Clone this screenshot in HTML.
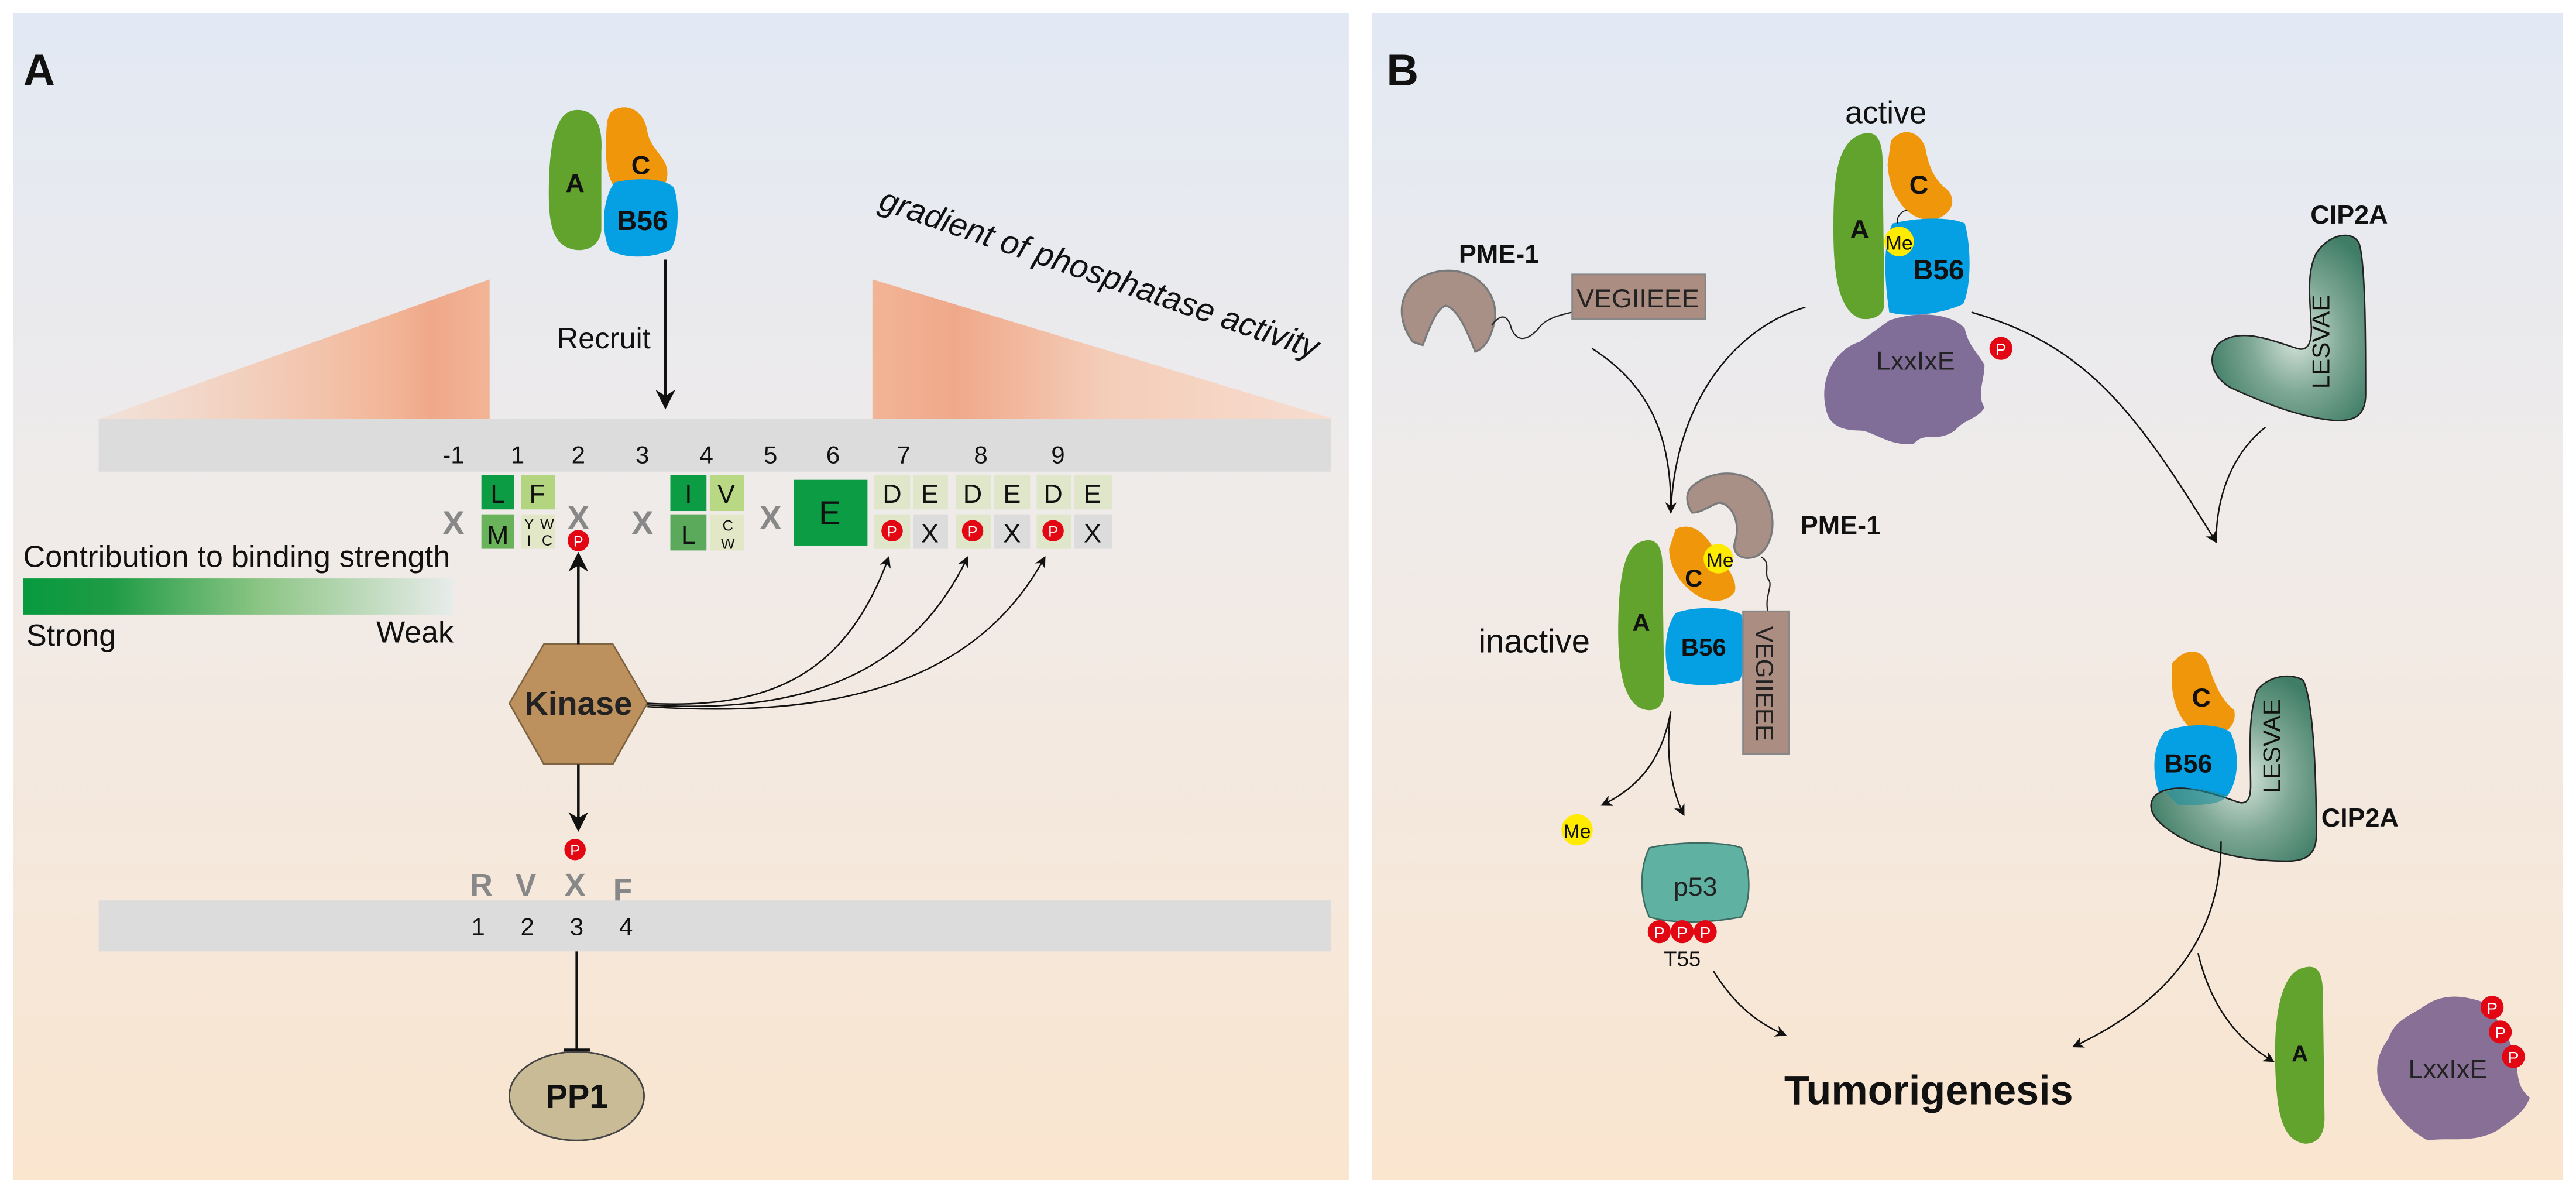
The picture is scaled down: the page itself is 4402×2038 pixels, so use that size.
<!DOCTYPE html>
<html><head><meta charset="utf-8"><style>
html,body{margin:0;padding:0;background:#fff;}
svg{display:block;}
text{font-family:"Liberation Sans",Arial,sans-serif;}
</style></head><body>
<svg width="4402" height="2038" viewBox="0 0 1568 726" xmlns="http://www.w3.org/2000/svg">
<defs>
<linearGradient id="bg" x1="0" y1="0" x2="0" y2="1">
<stop offset="0" stop-color="#e2e9f4"/><stop offset="0.45" stop-color="#f0ebe8"/><stop offset="1" stop-color="#fae5cf"/>
</linearGradient>
<linearGradient id="tl" x1="0" y1="0" x2="1" y2="0">
<stop offset="0" stop-color="#f6d8c6" stop-opacity="0.5"/><stop offset="0.75" stop-color="#f2b596"/><stop offset="0.85" stop-color="#f0a88a"/><stop offset="1" stop-color="#f2b496"/>
</linearGradient>
<linearGradient id="tr" x1="0" y1="0" x2="1" y2="0">
<stop offset="0" stop-color="#f2b496"/><stop offset="0.18" stop-color="#f0a88a"/><stop offset="0.5" stop-color="#f4cdb8"/><stop offset="1" stop-color="#f7ddd0"/>
</linearGradient>
<linearGradient id="leg" x1="0" y1="0" x2="1" y2="0">
<stop offset="0" stop-color="#079a3e"/><stop offset="0.2" stop-color="#1e9b45"/><stop offset="0.55" stop-color="#8cc585"/><stop offset="1" stop-color="#e8ecea"/>
</linearGradient>
<radialGradient id="cip" cx="0.55" cy="0.55" r="0.6">
<stop offset="0" stop-color="#d8e6dd"/><stop offset="0.5" stop-color="#7fa896"/><stop offset="1" stop-color="#3f7d66"/>
</radialGradient>
<marker id="ah" viewBox="0 0 10 10" refX="9" refY="5" markerWidth="7" markerHeight="7" orient="auto-start-reverse" markerUnits="userSpaceOnUse">
<path d="M0,0 L10,5 L0,10 L3,5Z" fill="#111"/></marker>
<marker id="ahb" viewBox="0 0 10 10" refX="9" refY="5" markerWidth="12" markerHeight="12" orient="auto" markerUnits="userSpaceOnUse">
<path d="M0,0 L10,5 L0,10 L3,5Z" fill="#111"/></marker>
</defs>
<rect width="1568" height="726" fill="#fff"/>
<rect x="8" y="8" width="813" height="710" fill="url(#bg)"/>
<rect x="835" y="8" width="725" height="710" fill="url(#bg)"/>

<!-- PANEL A -->
<text x="14" y="52" font-size="27" font-weight="bold" fill="#111">A</text>
<path d="M60,255 L298,170 L298,255Z" fill="url(#tl)"/>
<path d="M531,170 L531,255 L812,255Z" fill="url(#tr)"/>
<text transform="translate(534,127) rotate(19)" font-size="20" font-style="italic" fill="#111">gradient of phosphatase activity</text>
<!-- complex -->
<path d="M350,67 C362,66 367,76 366,92 L366,140 C365,150 357,153 350,152 C338,150 334,140 334,118 C334,88 338,68 350,67Z" fill="#62a32e"/>
<path d="M372,68 C380,62 392,66 394,80 C396,92 408,96 406,108 C404,120 392,123 384,121 C372,118 368,104 369,88 C369,78 369,72 372,68Z" fill="#f0960a"/>
<path d="M374,111 C386,108 404,108 410,114 C414,124 413,146 408,152 C396,158 378,157 371,152 C366,142 366,122 374,111Z" fill="#05a0e4"/>
<text x="350" y="117" font-size="16" font-weight="bold" fill="#111" text-anchor="middle">A</text>
<text x="390" y="106" font-size="16" font-weight="bold" fill="#111" text-anchor="middle">C</text>
<text x="391" y="140" font-size="17" font-weight="bold" fill="#111" text-anchor="middle">B56</text>
<text x="339" y="212" font-size="18" fill="#111">Recruit</text>
<line x1="405" y1="158" x2="405" y2="248" stroke="#111" stroke-width="1.5" marker-end="url(#ahb)"/>
<!-- bar1 -->
<rect x="60" y="255" width="750" height="32" fill="#dcdcdc"/>
<g font-size="15" fill="#111" text-anchor="middle">
<text x="276" y="282">-1</text><text x="315" y="282">1</text><text x="352" y="282">2</text><text x="391" y="282">3</text><text x="430" y="282">4</text><text x="469" y="282">5</text><text x="507" y="282">6</text><text x="550" y="282">7</text><text x="597" y="282">8</text><text x="644" y="282">9</text>
</g>
<!-- residues -->
<g font-size="20" fill="#888" text-anchor="middle" font-weight="bold">
<text x="276" y="325">X</text><text x="352" y="322">X</text><text x="391" y="325">X</text><text x="469" y="322">X</text>
</g>
<rect x="293" y="289" width="20" height="21" fill="#0b9c44"/>
<rect x="317" y="289" width="21" height="21" fill="#b3d57f"/>
<rect x="293" y="313" width="20" height="21" fill="#69b45a"/>
<rect x="317" y="313" width="21" height="21" fill="#e2e7c8"/>
<rect x="408" y="289" width="22" height="22" fill="#0b9c44"/>
<rect x="432" y="289" width="21" height="22" fill="#b9d884"/>
<rect x="408" y="313" width="22" height="22" fill="#5ba95a"/>
<rect x="432" y="313" width="21" height="22" fill="#e2e7c8"/>
<rect x="483" y="292" width="45" height="40" fill="#0b9c44"/>
<g fill="#e0e6c9"><rect x="532" y="289" width="22" height="21"/><rect x="556" y="289" width="21" height="21"/><rect x="582" y="289" width="21" height="21"/><rect x="605" y="289" width="22" height="21"/><rect x="631" y="289" width="21" height="21"/><rect x="654" y="289" width="23" height="21"/>
<rect x="532" y="313" width="22" height="21"/><rect x="582" y="313" width="21" height="21"/><rect x="631" y="313" width="21" height="21"/></g>
<g fill="#dcdcdc"><rect x="556" y="313" width="21" height="21"/><rect x="605" y="313" width="22" height="21"/><rect x="654" y="313" width="23" height="21"/></g>
<g font-size="16" fill="#111" text-anchor="middle">
<text x="303" y="306">L</text><text x="327" y="306">F</text><text x="303" y="331">M</text>
<text x="419" y="306">I</text><text x="442" y="306">V</text><text x="419" y="331">L</text>
<text x="505" y="319" font-size="20">E</text>
<text x="543" y="306">D</text><text x="566" y="306">E</text><text x="592" y="306">D</text><text x="616" y="306">E</text><text x="641" y="306">D</text><text x="665" y="306">E</text>
<text x="566" y="330">X</text><text x="616" y="330">X</text><text x="665" y="330">X</text>
</g>
<g font-size="9" fill="#111" text-anchor="middle">
<text x="322" y="322">Y</text><text x="333" y="322">W</text><text x="322" y="332">I</text><text x="333" y="332">C</text>
<text x="443" y="323">C</text><text x="443" y="334">W</text>
</g>
<g fill="#e30613"><circle cx="352" cy="329" r="6.5"/><circle cx="543" cy="323" r="6.5"/><circle cx="592" cy="323" r="6.5"/><circle cx="641" cy="323" r="6.5"/><circle cx="350" cy="517" r="6.5"/></g>
<g font-size="9" fill="#fff" text-anchor="middle"><text x="352" y="332.5">P</text><text x="543" y="326.5">P</text><text x="592" y="326.5">P</text><text x="641" y="326.5">P</text><text x="350" y="520.5">P</text></g>
<!-- legend -->
<text x="14" y="345" font-size="18.5" fill="#111" textLength="260">Contribution to binding strength</text>
<rect x="14" y="352" width="262" height="22" fill="url(#leg)"/>
<text x="16" y="393" font-size="18.5" fill="#111">Strong</text>
<text x="276" y="391" font-size="18.5" fill="#111" text-anchor="end">Weak</text>
<!-- kinase -->
<path d="M331,392 L373,392 L394,428 L373,465 L331,465 L310,428Z" fill="#bd915e" stroke="#7f6442" stroke-width="1"/>
<text x="352" y="435" font-size="20" font-weight="bold" fill="#222" text-anchor="middle">Kinase</text>
<line x1="352" y1="392" x2="352" y2="337" stroke="#111" stroke-width="1.6" marker-end="url(#ahb)"/>
<line x1="352" y1="465" x2="352" y2="505" stroke="#111" stroke-width="1.6" marker-end="url(#ahb)"/>
<g fill="none" stroke="#111" stroke-width="0.9">
<path d="M394,428 C470,432 515,410 541,339" marker-end="url(#ah)"/>
<path d="M394,429 C490,435 555,410 589,339" marker-end="url(#ah)"/>
<path d="M394,430 C510,438 595,415 636,339" marker-end="url(#ah)"/>
</g>
<!-- bar2 -->
<g font-size="19" fill="#888" font-weight="bold" text-anchor="middle"><text x="293" y="545">R</text><text x="320" y="545">V</text><text x="350" y="545">X</text><text x="379" y="548">F</text></g>
<rect x="60" y="548" width="750" height="31" fill="#dcdcdc"/>
<g font-size="15" fill="#111" text-anchor="middle"><text x="291" y="569">1</text><text x="321" y="569">2</text><text x="351" y="569">3</text><text x="381" y="569">4</text></g>
<line x1="351" y1="579" x2="351" y2="639" stroke="#111" stroke-width="1.5"/>
<line x1="343" y1="639" x2="359" y2="639" stroke="#111" stroke-width="1.8"/>
<ellipse cx="351" cy="667" rx="41" ry="27" fill="#c8bb95" stroke="#444" stroke-width="1"/>
<text x="351" y="674" font-size="20" font-weight="bold" fill="#111" text-anchor="middle">PP1</text>

<!-- PANEL B -->
<text x="844" y="52" font-size="27" font-weight="bold" fill="#111">B</text>
<text x="1148" y="75" font-size="19" fill="#111" text-anchor="middle">active</text>
<!-- active complex -->
<path d="M1112,251 C1106,230 1118,212 1132,208 L1150,195 C1170,188 1190,192 1196,200 C1198,210 1204,215 1208,222 C1208,232 1203,240 1208,248 C1204,255 1196,255 1190,262 C1178,270 1172,262 1165,270 C1150,272 1140,262 1132,262 C1120,262 1114,258 1112,251Z" fill="#806e99"/>
<path d="M1132,82 C1143,78 1146,86 1146,100 L1147,185 C1147,192 1140,195 1133,194 C1120,190 1116,170 1116,140 C1116,108 1118,88 1132,82Z" fill="#62a32e"/>
<path d="M1151,86 C1156,78 1168,78 1172,90 C1174,102 1178,110 1186,116 C1192,124 1186,132 1176,134 C1160,134 1150,118 1149,100Z" fill="#f0960a"/>
<path d="M1152,136 C1168,132 1188,132 1196,136 C1200,150 1200,175 1195,185 C1180,192 1160,193 1150,190 C1147,170 1146,148 1152,136Z" fill="#05a0e4"/>
<path d="M1155,136 C1154,132 1158,128 1161,128" fill="none" stroke="#111" stroke-width="0.6"/>
<circle cx="1156" cy="147" r="9" fill="#ffeb00"/>
<text x="1156" y="152" font-size="12" fill="#111" text-anchor="middle">Me</text>
<text x="1132" y="145" font-size="16" font-weight="bold" fill="#111" text-anchor="middle">A</text>
<text x="1168" y="118" font-size="16" font-weight="bold" fill="#111" text-anchor="middle">C</text>
<text x="1180" y="170" font-size="17" font-weight="bold" fill="#111" text-anchor="middle">B56</text>
<text x="1166" y="225" font-size="16" fill="#222" text-anchor="middle">LxxIxE</text>
<circle cx="1218" cy="212" r="7" fill="#e30613"/><text x="1218" y="216" font-size="10" fill="#fff" text-anchor="middle">P</text>
<!-- free PME-1 -->
<text x="888" y="160" font-size="16" font-weight="bold" fill="#111">PME-1</text>
<path d="M860,208 C848,192 852,172 872,166 C895,160 912,176 910,194 C908,205 904,212 898,214 C894,204 888,188 880,186 C874,188 870,200 866,210Z" fill="#a89086" stroke="#7a7a7a" stroke-width="1.2"/>
<path d="M908,198 C914,190 918,192 920,200 C924,210 932,206 938,198 C942,194 948,192 957,190" fill="none" stroke="#222" stroke-width="0.8"/>
<rect x="957" y="167" width="81" height="27" fill="#ac8d82" stroke="#888" stroke-width="1"/>
<text x="997" y="187" font-size="16" fill="#222" text-anchor="middle">VEGIIEEE</text>
<!-- CIP2A free -->
<text x="1430" y="136" font-size="16" font-weight="bold" fill="#111" text-anchor="middle">CIP2A</text>
<path d="M1410,154 C1418,142 1432,140 1436,148 C1440,160 1440,210 1440,240 C1440,254 1432,256 1422,256 C1400,254 1380,246 1358,236 C1344,228 1344,214 1352,208 C1364,200 1380,206 1398,212 C1404,214 1407,210 1407,200 C1406,180 1404,166 1410,154Z" fill="url(#cip)" stroke="#222" stroke-width="0.9"/>
<text transform="translate(1418,208) rotate(-90)" font-size="15" fill="#111" text-anchor="middle">LESVAE</text>
<!-- arrows top -->
<g fill="none" stroke="#111" stroke-width="0.9">
<path d="M969,212 C1000,232 1018,260 1017,312" marker-end="url(#ah)"/>
<path d="M1099,187 C1060,198 1020,240 1017,312"/>
<path d="M1200,190 C1270,210 1300,250 1349,330" marker-end="url(#ah)"/>
<path d="M1379,260 C1360,275 1349,300 1349,330"/>
</g>
<!-- inactive complex -->
<text x="900" y="397" font-size="20" fill="#111">inactive</text>
<path d="M998,330 C1008,326 1012,332 1012,345 L1013,420 C1013,430 1008,433 1002,432 C990,430 985,412 985,385 C985,355 988,334 998,330Z" fill="#62a32e"/>
<path d="M1020,322 C1028,318 1036,322 1042,332 C1050,344 1058,352 1056,360 C1052,366 1044,367 1036,364 C1024,358 1016,346 1016,334Z" fill="#f0960a"/>
<path d="M1030,296 C1044,284 1066,286 1074,300 C1082,314 1080,332 1070,338 C1062,342 1054,338 1056,330 C1060,318 1054,306 1046,306 C1040,308 1036,312 1030,312 C1026,306 1026,300 1030,296Z" fill="#a89086" stroke="#7a7a7a" stroke-width="1.2"/>
<circle cx="1046" cy="340" r="9" fill="#ffeb00"/>
<text x="1047" y="345" font-size="12" fill="#111" text-anchor="middle">Me</text>
<text x="999" y="384" font-size="15" font-weight="bold" fill="#111" text-anchor="middle">A</text>
<text x="1031" y="357" font-size="15" font-weight="bold" fill="#111" text-anchor="middle">C</text>
<path d="M1020,373 C1034,368 1054,370 1060,374 C1063,386 1063,406 1059,414 C1046,418 1030,418 1017,414 C1012,402 1013,382 1020,373Z" fill="#05a0e4"/>
<text x="1037" y="399" font-size="15" font-weight="bold" fill="#111" text-anchor="middle">B56</text>
<path d="M1072,339 C1078,342 1074,348 1076,352 C1080,356 1074,362 1076,372" fill="none" stroke="#222" stroke-width="0.8"/>
<rect x="1061" y="372" width="28" height="87" fill="#ac8d82" stroke="#888" stroke-width="1"/>
<text transform="translate(1069,416) rotate(90)" font-size="15" fill="#222" text-anchor="middle">VEGIIEEE</text>
<text x="1096" y="325" font-size="16" font-weight="bold" fill="#111">PME-1</text>
<!-- Me and p53 -->
<g fill="none" stroke="#111" stroke-width="0.9">
<path d="M1017,433 C1012,460 1000,478 975,490" marker-end="url(#ah)"/>
<path d="M1017,433 C1014,455 1016,478 1025,496" marker-end="url(#ah)"/>
<path d="M1043,591 C1055,610 1068,622 1087,630" marker-end="url(#ah)"/>
</g>
<circle cx="960" cy="505" r="9.5" fill="#ffeb00"/>
<text x="960" y="510" font-size="12" fill="#111" text-anchor="middle">Me</text>
<path d="M1004,516 C1020,512 1050,512 1060,516 C1066,530 1066,548 1060,558 C1040,562 1016,562 1004,558 C998,546 998,528 1004,516Z" fill="#5fb1a2" stroke="#3d6b62" stroke-width="0.9"/>
<text x="1032" y="545" font-size="16" fill="#222" text-anchor="middle">p53</text>
<g fill="#e30613"><circle cx="1010" cy="567" r="7"/><circle cx="1024" cy="567" r="7"/><circle cx="1038" cy="567" r="7"/></g>
<g font-size="10" fill="#fff" text-anchor="middle"><text x="1010" y="571">P</text><text x="1024" y="571">P</text><text x="1038" y="571">P</text></g>
<text x="1024" y="588" font-size="13" fill="#111" text-anchor="middle">T55</text>
<text x="1174" y="672" font-size="25" font-weight="bold" fill="#111" text-anchor="middle">Tumorigenesis</text>
<!-- CIP2A bound complex -->
<path d="M1322,404 C1330,394 1340,394 1344,404 C1348,416 1352,426 1360,432 C1362,442 1354,448 1344,448 C1330,446 1322,430 1322,414Z" fill="#f0960a"/>
<path d="M1318,445 C1330,440 1352,440 1358,446 C1364,460 1362,476 1356,484 C1340,490 1325,490 1314,482 C1310,470 1310,454 1318,445Z" fill="#05a0e4"/>
<path d="M1374,420 C1382,410 1396,410 1402,414 C1408,426 1410,470 1410,508 C1410,520 1404,524 1392,524 C1370,524 1350,520 1332,512 C1312,502 1305,492 1312,484 C1322,476 1340,480 1362,488 C1368,490 1370,486 1370,478 C1370,460 1368,436 1374,420Z" fill="url(#cip)" stroke="#222" stroke-width="0.9"/>
<path d="M1318,482 C1330,478 1345,480 1356,484 C1352,490 1340,490 1326,490Z" fill="#1e8f9e" opacity="0.6"/>
<text x="1340" y="430" font-size="16" font-weight="bold" fill="#111" text-anchor="middle">C</text>
<text x="1332" y="470" font-size="16" font-weight="bold" fill="#111" text-anchor="middle">B56</text>
<text transform="translate(1388,454) rotate(-90)" font-size="15" fill="#111" text-anchor="middle">LESVAE</text>
<text x="1413" y="503" font-size="16" font-weight="bold" fill="#111">CIP2A</text>
<g fill="none" stroke="#111" stroke-width="0.9">
<path d="M1352,512 C1352,570 1320,610 1262,637" marker-end="url(#ah)"/>
<path d="M1338,580 C1345,610 1360,632 1384,646" marker-end="url(#ah)"/>
</g>
<!-- bottom right -->
<path d="M1402,589 C1412,586 1414,594 1414,605 L1415,680 C1415,692 1410,696 1403,696 C1390,694 1386,680 1385,650 C1384,620 1388,592 1402,589Z" fill="#62a32e"/>
<text x="1400" y="646" font-size="14" font-weight="bold" fill="#111" text-anchor="middle">A</text>
<path d="M1450,665 C1444,650 1448,640 1454,632 C1458,620 1468,618 1476,612 C1488,604 1500,606 1512,610 C1520,620 1526,628 1530,640 C1534,650 1530,660 1540,668 C1536,678 1528,682 1520,688 C1506,696 1490,692 1478,694 C1466,688 1458,678 1450,665Z" fill="#876f95"/>
<text x="1490" y="656" font-size="16" fill="#222" text-anchor="middle">LxxIxE</text>
<g fill="#e30613"><circle cx="1517" cy="613" r="7"/><circle cx="1522" cy="628" r="7"/><circle cx="1530" cy="643" r="7"/></g>
<g font-size="10" fill="#fff" text-anchor="middle"><text x="1517" y="617">P</text><text x="1522" y="632">P</text><text x="1530" y="647">P</text></g>
</svg>
</body></html>
